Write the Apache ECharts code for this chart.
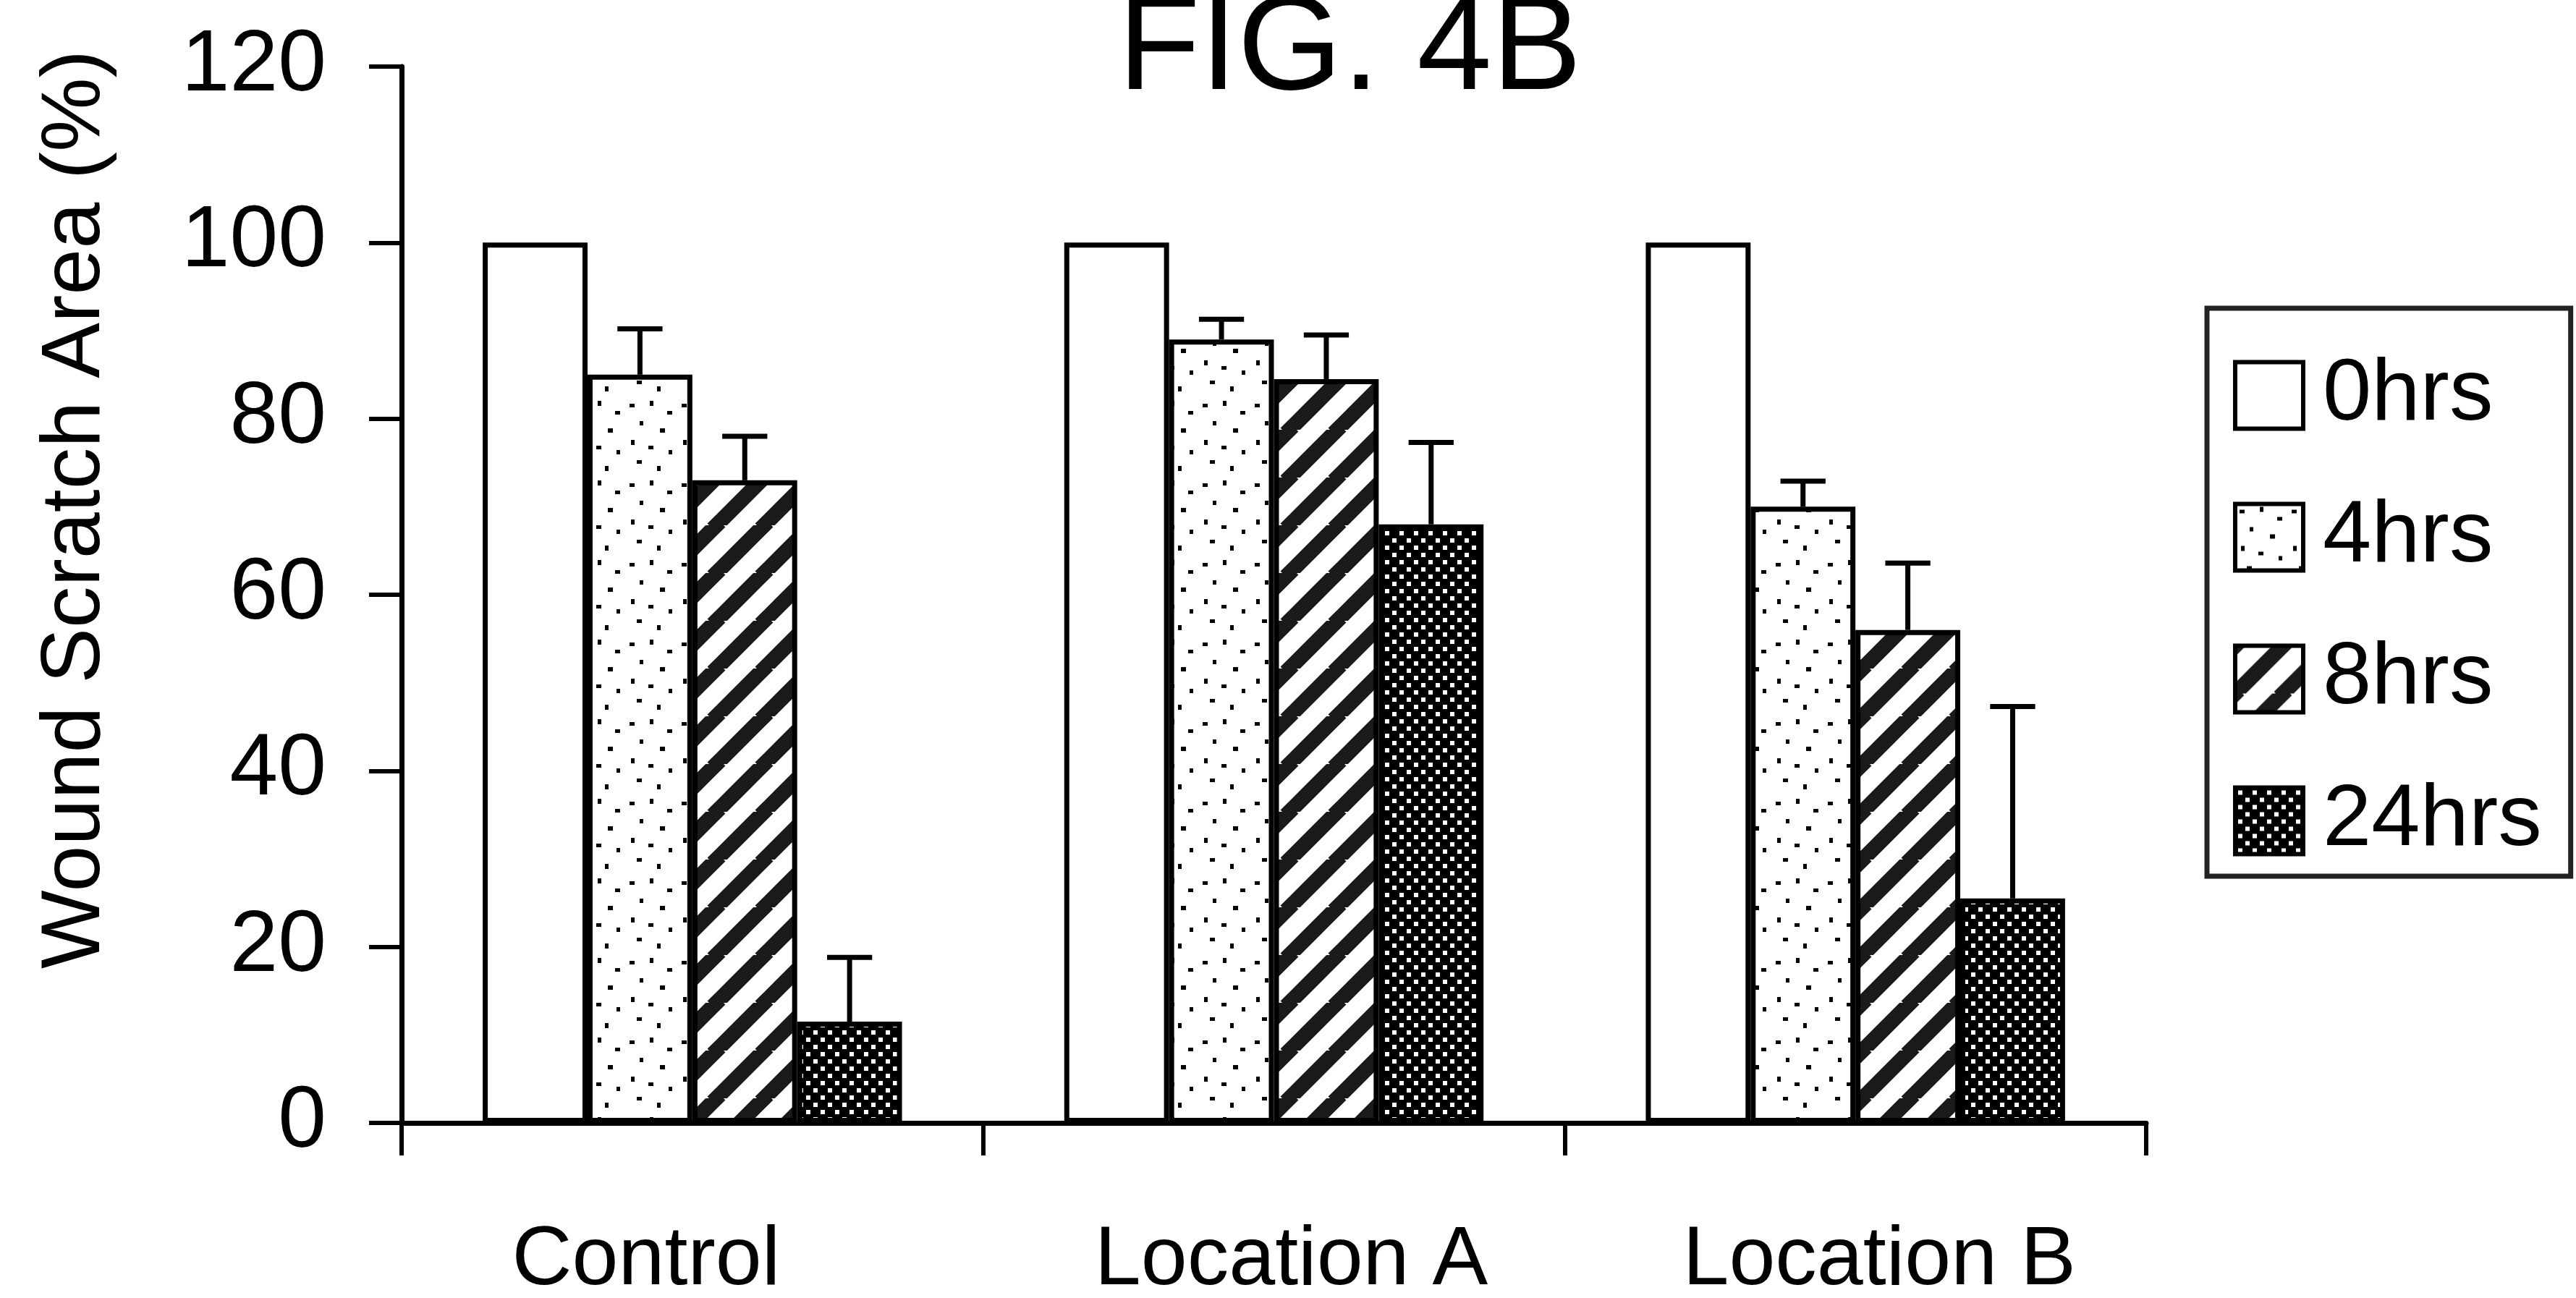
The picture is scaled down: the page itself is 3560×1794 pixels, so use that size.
<!DOCTYPE html>
<html>
<head>
<meta charset="utf-8">
<script src="https://cdn.jsdelivr.net/npm/echarts@6/dist/echarts.min.js"></script>
<style>
html,body{margin:0;padding:0;background:#fff;}
#chart{width:3560px;height:1794px;}
</style>
</head>
<body>
<div id="chart"></div>
<script>
// ---- data ----
const categories = ['Control', 'Location A', 'Location B'];
const seriesNames = ['0hrs', '4hrs', '8hrs', '24hrs'];
const hrs0 = [100, 100, 100];
const hrs4 = [85, 89, 70];
const hrs8 = [73, 84.5, 56];
const hrs24 = [11.5, 68, 25.5];
const err0 = [0, 0, 0];
const err4 = [5.2, 2.3, 2.9];
const err8 = [5, 5, 7.6];
const err24 = [7.3, 9.3, 21.8];
const yTicks = [0, 20, 40, 60, 80, 100, 120];

// ---- fill patterns (style only) ----
function mk(w, h) { const c = document.createElement('canvas'); c.width = w; c.height = h; return c; }
function stipple() {
  const c = mk(72, 110), g = c.getContext('2d');
  g.fillStyle = '#fff'; g.fillRect(0, 0, 72, 110);
  g.fillStyle = '#000';
  [[6,8,7,5],[34,4,5,7],[58,18,7,5],[20,32,5,6],[48,42,7,6],[8,58,5,7],[32,66,7,5],[60,72,5,6],
   [16,86,7,5],[44,94,5,7]].forEach(d => g.fillRect(d[0], d[1], d[2], d[3]));
  return c;
}
function hatch() {
  const s = 66, c = mk(s, s), g = c.getContext('2d');
  g.fillStyle = '#fff'; g.fillRect(0, 0, s, s);
  g.strokeStyle = '#1a1a1a'; g.lineWidth = 21;
  for (const o of [-s, 0, s]) { g.beginPath(); g.moveTo(o - 5, s + 5); g.lineTo(o + s + 5, -5); g.stroke(); }
  return c;
}
function checker() {
  const c = mk(20, 20), g = c.getContext('2d');
  g.fillStyle = '#000'; g.fillRect(0, 0, 20, 20);
  g.fillStyle = '#fff'; g.fillRect(4, 4, 6, 6); g.fillRect(14, 14, 6, 6);
  return c;
}
const fills = [
  '#ffffff',
  { image: stipple(), repeat: 'repeat' },
  { image: hatch(), repeat: 'repeat' },
  { image: checker(), repeat: 'repeat' }
];
const values = [hrs0, hrs4, hrs8, hrs24];
const errors = [err0, err4, err8, err24];
const CAT_GAP = 0.279;
const FONT = '"Liberation Sans", Arial, sans-serif';

function errRender(idx) {
  return function (params, api) {
    const cat = api.value(0), val = api.value(1), err = api.value(2);
    if (!err) return null;
    const base = api.coord([cat, val]);
    const top = api.coord([cat, val + err]);
    const band = api.size([1, 0])[0];
    const barW = band * (1 - CAT_GAP) / 4;
    const cx = base[0] + (idx - 1.5) * barW;
    const capW = barW * 0.43;
    return {
      type: 'group',
      children: [
        { type: 'line', shape: { x1: cx, y1: base[1], x2: cx, y2: top[1] }, style: { stroke: '#000', lineWidth: 7 } },
        { type: 'line', shape: { x1: cx - capW / 2, y1: top[1], x2: cx + capW / 2, y2: top[1] }, style: { stroke: '#000', lineWidth: 7 } }
      ]
    };
  };
}

const series = [];
seriesNames.forEach((n, i) => {
  series.push({
    name: n, type: 'bar', data: values[i],
    barGap: '0%', barCategoryGap: (CAT_GAP * 100) + '%',
    itemStyle: { color: fills[i], borderColor: '#000', borderWidth: 7 },
    z: 2
  });
});
seriesNames.forEach((n, i) => {
  series.push({
    name: 'err-' + n, type: 'custom', renderItem: errRender(i), z: 4,
    data: categories.map((c, k) => [k, values[i][k], errors[i][k]]),
    encode: { x: 0, y: 1 }
  });
});

// per-label horizontal offsets (label placement style)
const labelKeys = ['c', 'a', 'b'];
const FS_X = 115;

const chart = echarts.init(document.getElementById('chart'), null, { renderer: 'canvas' });
chart.setOption({
  animation: false,
  backgroundColor: '#fff',
  title: {
    text: 'FIG. 4B', left: 1545, top: -21, padding: 0,
    textStyle: { fontFamily: FONT, fontSize: 186, fontWeight: 'normal', color: '#000' }
  },
  legend: {
    data: seriesNames, orient: 'vertical', left: 3050, top: 426,
    padding: [60, 40, 16, 36], itemGap: 75, itemWidth: 94, itemHeight: 92,
    icon: 'rect', selectedMode: false,
    borderColor: '#222', borderWidth: 7, backgroundColor: '#fff',
    itemStyle: { borderColor: '#000', borderWidth: 6 },
    textStyle: { fontFamily: FONT, fontSize: 121, color: '#000', padding: [0, 0, 0, 22] }
  },
  grid: { left: 555, right: 594, top: 92, bottom: 242, containLabel: false, outerBoundsMode: 'none' },
  xAxis: {
    type: 'category', data: categories, boundaryGap: true,
    axisLine: { show: true, onZero: false, lineStyle: { color: '#000', width: 7 } },
    axisTick: { show: true, length: 45, alignWithLabel: false, lineStyle: { color: '#000', width: 6 } },
    axisLabel: {
      color: '#000', margin: 134,
      formatter: function (v, i) { return '{' + labelKeys[i] + '|' + v + '}'; },
      rich: {
        c: { fontFamily: FONT, fontSize: FS_X, color: '#000', padding: [0, 128, 0, 0] },
        a: { fontFamily: FONT, fontSize: FS_X, color: '#000', padding: [0, 0, 0, 48] },
        b: { fontFamily: FONT, fontSize: FS_X, color: '#000', padding: [0, 0, 0, 66] }
      }
    },
    splitLine: { show: false }
  },
  yAxis: {
    type: 'value', min: yTicks[0], max: yTicks[yTicks.length - 1], interval: 20,
    name: 'Wound Scratch Area (%)', nameLocation: 'middle', nameGap: 392,
    nameTextStyle: { fontFamily: FONT, fontSize: 115, color: '#000', padding: [0, 0, 0, 236] },
    axisLine: { show: true, lineStyle: { color: '#000', width: 7 } },
    axisTick: { show: true, length: 45, lineStyle: { color: '#000', width: 6 } },
    axisLabel: { fontFamily: FONT, fontSize: 120, color: '#000', margin: 104 },
    splitLine: { show: false }
  },
  series: series
});
</script>
</body>
</html>
